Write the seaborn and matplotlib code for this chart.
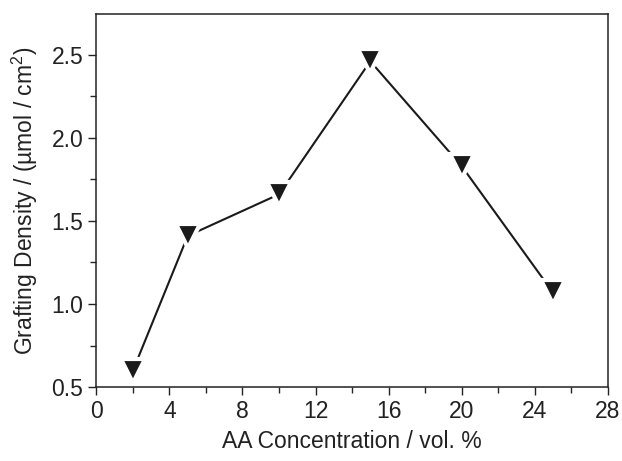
import matplotlib
matplotlib.use("Agg")
import matplotlib.pyplot as plt
import pandas as pd
import seaborn as sns
from matplotlib.ticker import MultipleLocator

# data
aa_conc = [2, 5, 10, 15, 20, 25]
grafting = [0.60, 1.41, 1.66, 2.46, 1.83, 1.07]

df = pd.DataFrame({"conc": aa_conc, "density": grafting})

sns.set_theme(style="ticks")
plt.rcParams["font.family"] = ["Liberation Sans", "DejaVu Sans"]
plt.rcParams["mathtext.fontset"] = "custom"
plt.rcParams["mathtext.rm"] = "Liberation Sans"

fig, ax = plt.subplots(figsize=(6.22, 4.61), dpi=100)
fig.subplots_adjust(left=0.155, right=0.977, top=0.97, bottom=0.16)

sns.lineplot(
    data=df,
    x="conc",
    y="density",
    ax=ax,
    color="#1a1a1a",
    linewidth=1.5,
    marker="v",
    markersize=17,
    markerfacecolor="#1a1a1a",
    markeredgecolor="white",
    markeredgewidth=3,
)

ax.set_xlim(0, 28)
ax.set_ylim(0.5, 2.745)
ax.xaxis.set_major_locator(MultipleLocator(4))
ax.xaxis.set_minor_locator(MultipleLocator(2))
ax.yaxis.set_major_locator(MultipleLocator(0.5))
ax.yaxis.set_minor_locator(MultipleLocator(0.25))

ax.tick_params(axis="both", which="major", direction="out", length=6,
               width=1, labelsize=16.5, colors="#222222")
ax.tick_params(axis="both", which="minor", direction="out", length=4, width=1)

for s in ax.spines.values():
    s.set_color("#222222")
    s.set_linewidth(1.1)

ax.set_xlabel("AA Concentration / vol. %", fontsize=16.5, labelpad=5, color="#222222")
ax.set_ylabel(r"Grafting Density / (µmol / cm$^{\mathregular{2}}$)", fontsize=16.5,
              labelpad=8, color="#222222")

plt.savefig("out.png", dpi=100)
